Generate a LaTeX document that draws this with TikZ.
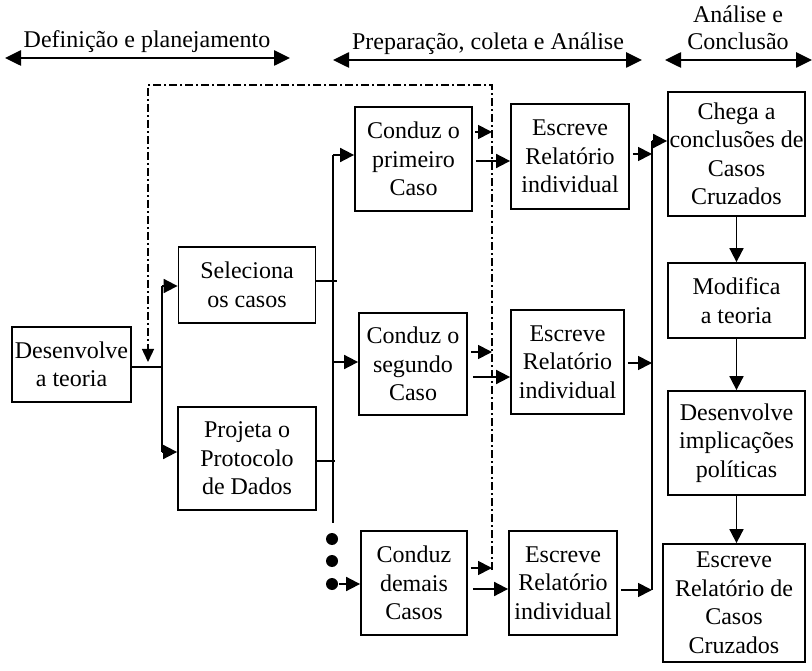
\documentclass[tikz,border=0pt]{standalone}
\usepackage{fontspec}
\setmainfont{Liberation Serif}
\usetikzlibrary{arrows.meta}

\begin{document}
\begin{tikzpicture}[x=1pt,y=-1pt,
    caixa/.style={draw,line width=1.8pt,align=center,inner sep=0pt,
        font=\fontsize{24}{28.5}\selectfont},
    rotulo/.style={anchor=base,align=center,font=\fontsize{24}{28}\selectfont},
    seta/.style={line width=1.8pt,-{Triangle[length=14pt,width=14pt]}},
    linha/.style={line width=1.2pt},
    fase/.style={line width=2.6pt,
        {Triangle[length=16pt,width=15pt]}-{Triangle[length=16pt,width=15pt]}},
    retorno/.style={line width=1.4pt,dash pattern=on 8pt off 3pt on 2pt off 3pt,
        -{Triangle[length=13pt,width=12pt]}}]
    \useasboundingbox (0,0) rectangle (812,671);

    % fases
    \coordinate (f1a) at (5,58);
    \coordinate (f1b) at (290,58);
    \coordinate (f2a) at (333,60);
    \coordinate (f2b) at (642,60);
    \coordinate (f3a) at (665,60);
    \coordinate (f3b) at (812,60);
    \draw[fase] (f1a) -- (f1b);
    \draw[fase] (f2a) -- (f2b);
    \draw[fase] (f3a) -- (f3b);
    \node[rotulo] (fase1) at (147,48) {Definição e planejamento};
    \node[rotulo] (fase2) at (488,50) {Preparação, coleta e Análise};
    \node[rotulo] (fase3a) at (738,23) {Análise e};
    \node[rotulo] (fase3b) at (738,50) {Conclusão};

    % caixas
    \node[caixa,minimum width=119pt,minimum height=75pt] (teoria) at (71.5,364.5)
        {Desenvolve\\a teoria};
    \node[caixa,minimum width=137pt,minimum height=76pt] (sel) at (247,285)
        {Seleciona\\os casos};
    \node[caixa,minimum width=138pt,minimum height=103pt] (proj) at (247,458.5)
        {Projeta o\\Protocolo\\de Dados};
    \node[caixa,minimum width=117pt,minimum height=104pt] (c1) at (413.5,159)
        {Conduz o\\primeiro\\Caso};
    \node[caixa,minimum width=108pt,minimum height=102pt] (c2) at (413,364)
        {Conduz o\\segundo\\Caso};
    \node[caixa,minimum width=106pt,minimum height=104pt] (c3) at (414,583)
        {Conduz\\demais\\Casos};
    \node[caixa,minimum width=118pt,minimum height=105pt] (e1) at (570,156.5)
        {Escreve\\Relatório\\individual};
    \node[caixa,minimum width=113pt,minimum height=104pt] (e2) at (567.5,362)
        {Escreve\\Relatório\\individual};
    \node[caixa,minimum width=108pt,minimum height=104pt] (e3) at (563,583)
        {Escreve\\Relatório\\individual};
    \node[caixa,minimum width=137pt,minimum height=124pt] (chega) at (736.5,154)
        {Chega a\\conclusões de\\Casos\\Cruzados};
    \node[caixa,minimum width=137pt,minimum height=75pt] (modif) at (736.5,300.5)
        {Modifica\\a teoria};
    \node[caixa,minimum width=137pt,minimum height=104pt] (impl) at (736.5,443)
        {Desenvolve\\implicações\\políticas};
    \node[caixa,minimum width=142pt,minimum height=118pt] (final) at (734,603)
        {Escreve\\Relatório de\\Casos\\Cruzados};

    % teoria -> selecao / protocolo
    \coordinate (ja) at (163,367);
    \coordinate (ja1) at (162,286);
    \coordinate (ja2) at (162,452);
    \draw[linha] (teoria.east |- ja) -- (ja);
    \draw[linha] (ja1) -- (ja2);
    \draw[seta] (ja1) -- (ja1 -| sel.west);
    \draw[seta] (ja2) -- (ja2 -| proj.west);

    % conducao dos casos
    \coordinate (jb1) at (333,155);
    \coordinate (jb2) at (333,362);
    \coordinate (jb3) at (333,523);
    \coordinate (sb) at (337,281);
    \coordinate (pb) at (335,461);
    \draw[linha] (jb1) -- (jb3);
    \draw[linha] (sel.east |- sb) -- (sb);
    \draw[linha] (proj.east |- pb) -- (pb);
    \draw[seta] (jb1) -- (jb1 -| c1.west);
    \draw[seta] (jb2) -- (jb2 -| c2.west);
    \foreach \y [count=\i] in {539,561,584}
        \fill (332,\y) coordinate (p\i) circle (6);
    \draw[seta] ([xshift=7pt]p3) -- (p3 -| c3.west);

    % retorno
    \coordinate (r0) at (492,570);
    \coordinate (r1) at (492,85);
    \coordinate (r2) at (148,85);
    \coordinate (r3) at (148,362);
    \draw[retorno] (r0) -- (r1) -- (r2) -- (r3);
    \coordinate (k1) at (492,132);
    \coordinate (k2) at (492,352);
    \coordinate (k3) at (492,568);
    \draw[seta] ([xshift=2pt]c1.east |- k1) -- (k1);
    \draw[seta] ([xshift=3pt]c2.east |- k2) -- (k2);
    \draw[seta] ([xshift=3pt]c3.east |- k3) -- (k3);

    % relatorios individuais
    \coordinate (m1) at (0,161);
    \coordinate (m2) at (0,377);
    \coordinate (m3) at (0,589);
    \draw[seta] ([xshift=3pt]c1.east |- m1) -- (e1.west |- m1);
    \draw[seta] ([xshift=5pt]c2.east |- m2) -- (e2.west |- m2);
    \draw[seta] ([xshift=5pt]c3.east |- m3) -- (e3.west |- m3);

    % casos cruzados
    \coordinate (jc1) at (652,141);
    \coordinate (jc2) at (652,590);
    \draw[linha] (jc1) -- (jc2);
    \draw[seta] (jc1) -- (jc1 -| chega.west);
    \coordinate (n1) at (0,154);
    \coordinate (n2) at (0,363);
    \coordinate (n3) at (0,590);
    \draw[seta] ([xshift=3pt]e1.east |- n1) -- (jc1 |- n1);
    \draw[seta] ([xshift=3pt]e2.east |- n2) -- (jc1 |- n2);
    \draw[seta] ([xshift=3pt]e3.east |- n3) -- (jc1 |- n3);

    \draw[seta] (chega) -- (modif);
    \draw[seta] (modif) -- (impl);
    \draw[seta] (impl.south) -- (impl.south |- final.north);
\end{tikzpicture}
\end{document}
